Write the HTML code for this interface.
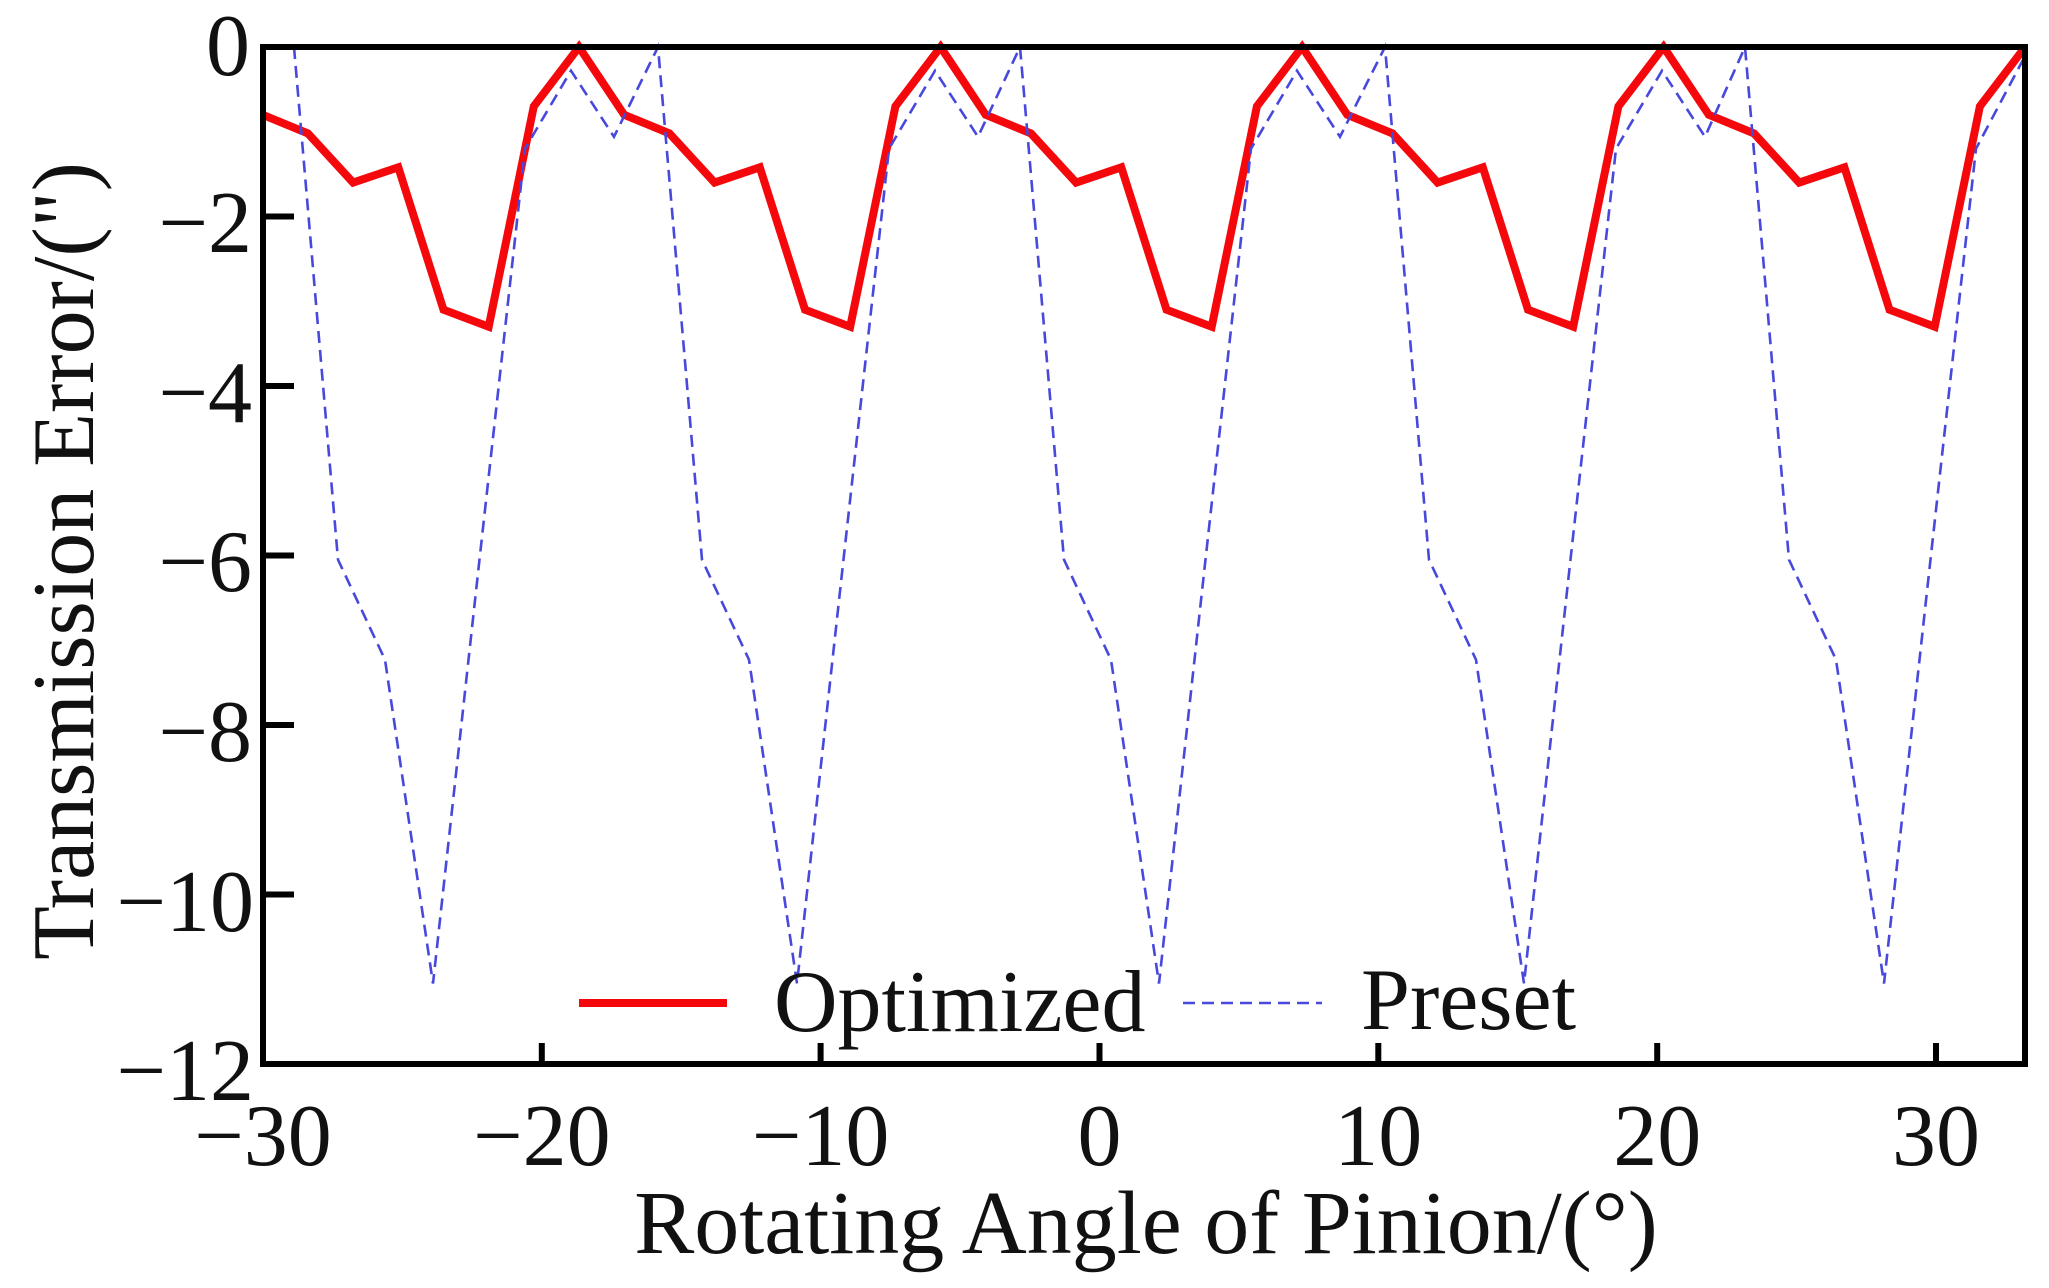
<!DOCTYPE html>
<html>
<head>
<meta charset="utf-8">
<style>
  html, body { margin: 0; padding: 0; background: #ffffff; }
  svg { display: block; }
  text { font-family: "Liberation Serif", "Times New Roman", serif; font-size: 88px; fill: #111; }
</style>
</head>
<body>
<svg width="2049" height="1288" viewBox="0 0 2049 1288" xmlns="http://www.w3.org/2000/svg">
  <rect x="0" y="0" width="2049" height="1288" fill="#ffffff"/>

  <!-- Optimized (red) -->
  <polyline fill="none" stroke="#f5080c" stroke-width="8" stroke-linejoin="miter" stroke-miterlimit="4"
    points="262.7,114.8 307.9,133.4 353.1,182.6 398.3,167.3 443.5,309.7 488.7,326.7 533.8,106.3 579.0,47
            624.2,114.8 669.4,133.4 714.6,182.6 759.8,167.3 805.0,309.7 850.2,326.7 895.4,106.3 940.6,47
            985.7,114.8 1030.9,133.4 1076.1,182.6 1121.3,167.3 1166.5,309.7 1211.7,326.7 1256.9,106.3 1302.1,47
            1347.3,114.8 1392.5,133.4 1437.6,182.6 1482.8,167.3 1528.0,309.7 1573.2,326.7 1618.4,106.3 1663.6,47
            1708.8,114.8 1754.0,133.4 1799.2,182.6 1844.4,167.3 1889.5,309.7 1934.7,326.7 1979.9,106.3 2025.1,47"/>

  <!-- Preset (blue dashed) -->
  <polyline fill="none" stroke="#4848dc" stroke-width="2.6" stroke-dasharray="12 7" stroke-linejoin="miter"
    points="294,47 338,559.7 385,659.7 433,983.5 479,564 525,148.7 571,70.7 614,136.8
            658,47 702,559.7 749,659.7 797,983.5 843,564 889,148.7 935,70.7 978,136.8
            1020,47 1064,559.7 1111,659.7 1159,983.5 1205,564 1251,148.7 1297,70.7 1340,136.8
            1385,47 1429,559.7 1476,659.7 1524,983.5 1570,564 1616,148.7 1662,70.7 1705,136.8
            1745,47 1789,559.7 1836,659.7 1884,983.5 1930,564 1976,148.7 2024,58"/>

  <!-- Axes frame -->
  <rect x="263" y="47" width="1762" height="1017" fill="none" stroke="#000" stroke-width="6"/>

  <!-- Ticks -->
  <g stroke="#000" stroke-width="6">
    <line x1="263" y1="216.5" x2="294" y2="216.5"/>
    <line x1="263" y1="386" x2="294" y2="386"/>
    <line x1="263" y1="555.5" x2="294" y2="555.5"/>
    <line x1="263" y1="725" x2="294" y2="725"/>
    <line x1="263" y1="894.5" x2="294" y2="894.5"/>
    <line x1="541.8" y1="1064" x2="541.8" y2="1043"/>
    <line x1="820.6" y1="1064" x2="820.6" y2="1043"/>
    <line x1="1099.5" y1="1064" x2="1099.5" y2="1043"/>
    <line x1="1378.3" y1="1064" x2="1378.3" y2="1043"/>
    <line x1="1657.2" y1="1064" x2="1657.2" y2="1043"/>
    <line x1="1936" y1="1064" x2="1936" y2="1043"/>
  </g>

  <!-- Y tick labels -->
  <g text-anchor="end">
    <text x="250" y="75">0</text>
    <text x="252" y="252">−2</text>
    <text x="252" y="422">−4</text>
    <text x="252" y="591">−6</text>
    <text x="252" y="761">−8</text>
    <text x="254" y="931">−10</text>
    <text x="254" y="1100">−12</text>
  </g>

  <!-- X tick labels -->
  <g text-anchor="middle">
    <text x="263" y="1165">−30</text>
    <text x="541.8" y="1165">−20</text>
    <text x="820.6" y="1165">−10</text>
    <text x="1099.5" y="1165">0</text>
    <text x="1378.3" y="1165">10</text>
    <text x="1657.2" y="1165">20</text>
    <text x="1936" y="1165">30</text>
  </g>

  <!-- Axis titles -->
  <text x="1146" y="1253" text-anchor="middle" style="font-size:90px">Rotating Angle of Pinion/(°)</text>
  <text transform="translate(93,561) rotate(-90)" text-anchor="middle">Transmission Error/(&quot;)</text>

  <!-- Legend -->
  <line x1="579" y1="1003" x2="727" y2="1003" stroke="#f5080c" stroke-width="8"/>
  <text x="774" y="1031">Optimized</text>
  <line x1="1183" y1="1003" x2="1322" y2="1003" stroke="#4848dc" stroke-width="2.6" stroke-dasharray="12 7"/>
  <text x="1361" y="1029">Preset</text>
</svg>
</body>
</html>
